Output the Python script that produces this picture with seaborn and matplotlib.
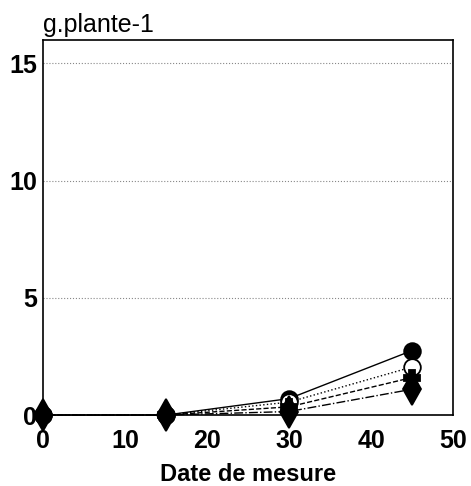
import matplotlib
matplotlib.use('Agg')
import seaborn as sns
import matplotlib.pyplot as plt

dates = [0, 15, 30, 45]
serie_rond = [0, 0, 0.7, 2.75]
serie_rond_vide = [0, 0, 0.55, 2.05]
serie_plus = [0, 0, 0.35, 1.6]
serie_losange = [0, 0, 0.15, 1.1]

y_ticks = [0, 5, 10, 15]
x_ticks = [0, 10, 20, 30, 40, 50]

sns.set_style('white')
plt.rcParams['font.family'] = ['Liberation Sans', 'DejaVu Sans']
plt.rcParams['text.color'] = 'black'
plt.rcParams['axes.labelcolor'] = 'black'
plt.rcParams['xtick.color'] = 'black'
plt.rcParams['ytick.color'] = 'black'

fig = plt.figure(figsize=(4.71, 4.86), dpi=100)
ax = fig.add_axes([0.091, 0.146, 0.871, 0.772])

styles = [
    (serie_rond, 'o', '-', 'black', 12),
    (serie_rond_vide, 'o', ':', 'white', 12),
    (serie_plus, 'P', '--', 'black', 12),
    (serie_losange, 'd', '-.', 'black', 16),
]
for vals, mk, ls, fc, ms in styles:
    sns.lineplot(x=dates, y=vals, ax=ax, color='black', marker=mk,
                 linestyle=ls, linewidth=1.0, markersize=ms,
                 markerfacecolor=fc, markeredgecolor='black',
                 markeredgewidth=1.3, clip_on=False, zorder=3)

ax.set_xlim(0, 50)
ax.set_ylim(0, 16)
ax.set_xticks(x_ticks)
ax.set_yticks(y_ticks)
ax.tick_params(axis='both', direction='in', length=4, width=1, labelsize=18)
ax.tick_params(axis='x', pad=10)
ax.tick_params(axis='y', pad=4)
for lbl in ax.get_xticklabels() + ax.get_yticklabels():
    lbl.set_fontweight('bold')

ax.yaxis.grid(True, linestyle=':', color='#888888', linewidth=0.8)
ax.xaxis.grid(False)
for sp in ax.spines.values():
    sp.set_color('black')
    sp.set_linewidth(1.2)

ax.set_xlabel('Date de mesure', fontsize=17, fontweight='bold', labelpad=7)
ax.set_ylabel('')
fig.text(0.091, 0.934, 'g.plante-1', fontsize=18, ha='left', va='baseline')

fig.savefig('out.png', dpi=100)
